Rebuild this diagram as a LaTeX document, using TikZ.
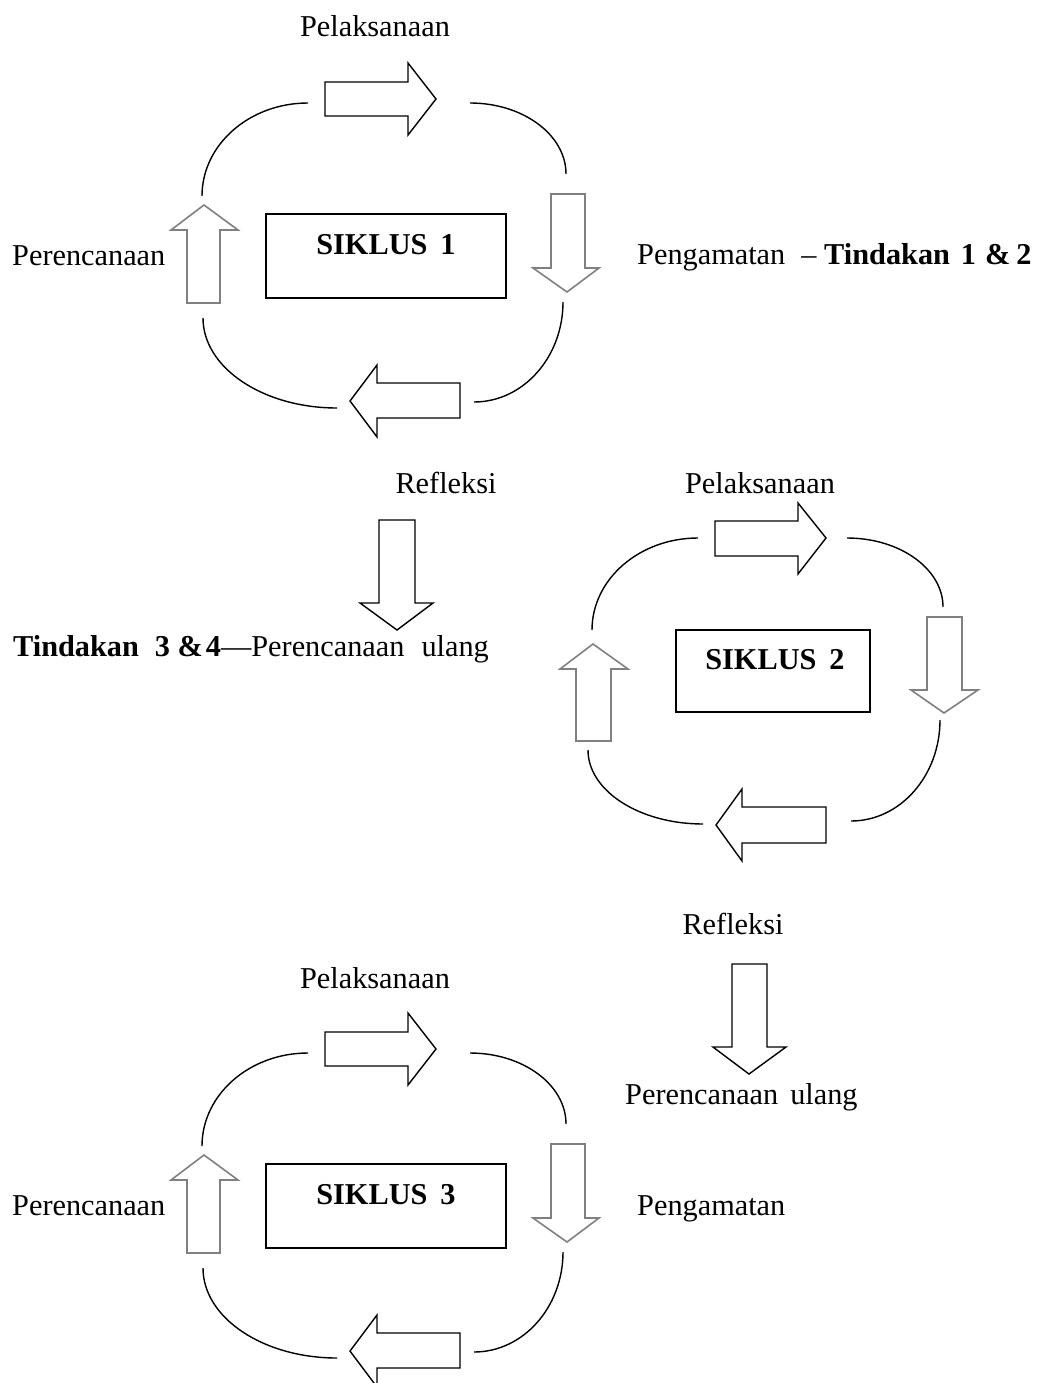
\documentclass[tikz,border=0pt]{standalone}
\usepackage{fontspec}
\setmainfont{Liberation Serif}
\begin{document}
\begin{tikzpicture}[x=1pt,y=-1pt,
  lbl/.style={inner sep=0pt,anchor=base,font=\fontsize{30.3}{36}\selectfont},
  lblw/.style={lbl,anchor=base west},
  arcline/.style={line width=1.4pt,black},
  blkarrow/.style={line width=1.4pt,black,fill=white,line join=miter},
  grayarrow/.style={line width=1.6pt,black!50,fill=white,line join=miter},
  boxstyle/.style={draw,line width=1.4pt,black}]
\useasboundingbox (0,0) rectangle (1044,1383);

% ---------- cycle 1 & 3 shapes ----------
\newcommand\cycleshapes{%
  \draw[arcline] (308,103) arc[start angle=270,end angle=180,x radius=106,y radius=93];
  \draw[arcline] (470,103) arc[start angle=270,end angle=360,x radius=96,y radius=71];
  \draw[arcline] (563,302) arc[start angle=0,end angle=90,x radius=89,y radius=100];
  \draw[arcline] (203,318) arc[start angle=180,end angle=90,x radius=134,y radius=90];
  % right arrow
  \draw[blkarrow] (325,82) -- (408,82) -- (408,63) -- (436,99) -- (408,135) -- (408,116) -- (325,116) -- cycle;
  % down arrow
  \draw[grayarrow] (551,194) -- (585,194) -- (585,268) -- (599,268) -- (567,292) -- (533,268) -- (551,268) -- cycle;
  % left arrow
  \draw[blkarrow] (460,383) -- (377,383) -- (377,365) -- (350,401) -- (377,437) -- (377,418) -- (460,418) -- cycle;
  % up arrow
  \draw[grayarrow] (187,303) -- (220,303) -- (220,230) -- (238,230) -- (204,205) -- (171,230) -- (187,230) -- cycle;
}

\cycleshapes
\node[boxstyle,minimum width=240pt,minimum height=84pt,inner sep=0pt] (box1) at (386,256) {};
\node[lbl] (s1) at (386,254) {\textbf{SIKLUS\hspace{13pt}1}};

\begin{scope}[shift={(0,950)}]
\cycleshapes
\end{scope}
\node[boxstyle,minimum width=240pt,minimum height=84pt,inner sep=0pt] (box3) at (386,1206) {};
\node[lbl] (s3) at (386,1204) {\textbf{SIKLUS\hspace{13pt}3}};

% ---------- cycle 2 ----------
\draw[arcline] (698,538) arc[start angle=270,end angle=180,x radius=106,y radius=92];
\draw[arcline] (847,538) arc[start angle=270,end angle=360,x radius=96,y radius=69];
\draw[arcline] (940,720) arc[start angle=0,end angle=90,x radius=89,y radius=101];
\draw[arcline] (588,750) arc[start angle=180,end angle=90,x radius=115,y radius=74];
\draw[blkarrow] (715,521) -- (798,521) -- (798,503) -- (826,538) -- (798,574) -- (798,556) -- (715,556) -- cycle;
\draw[grayarrow] (927,617) -- (962,617) -- (962,690) -- (978,690) -- (944,713) -- (911,690) -- (927,690) -- cycle;
\draw[blkarrow] (826,807) -- (742,807) -- (742,789) -- (716,825) -- (742,861) -- (742,843) -- (826,843) -- cycle;
\draw[grayarrow] (576,741) -- (611,741) -- (611,669) -- (628,669) -- (593,644) -- (560,669) -- (576,669) -- cycle;
\node[boxstyle,minimum width=194pt,minimum height=82pt,inner sep=0pt] (box2) at (773,671) {};
\node[lbl] (s2) at (775,669) {\textbf{SIKLUS\hspace{13pt}2}};

% ---------- Refleksi arrows ----------
\draw[blkarrow] (379,520) -- (415,520) -- (415,603) -- (433,603) -- (397,630) -- (360,603) -- (379,603) -- cycle;
\draw[blkarrow] (732,964) -- (767,964) -- (767,1047) -- (786,1047) -- (749,1074) -- (713,1047) -- (732,1047) -- cycle;

% ---------- labels ----------
\node[lbl] (pel1) at (375,37) {Pelaksanaan};
\node[lblw] (per1) at (12,265) {Perencanaan};
\node[lblw] (pen1) at (637,264) {Pengamatan\hspace{16pt}– \textbf{Tindakan\hspace{11pt}1\hspace{9pt}\&\hspace{6pt}2}};
\node[lbl] (ref1) at (446,493) {Refleksi};
\node[lbl] (pel2) at (760,493) {Pelaksanaan};
\node[lblw] (tin34) at (13,656) {\textbf{Tindakan\hspace{16pt}3 \&\hspace{3pt}4}—Perencanaan\hspace{17pt}ulang};
\node[lbl] (ref2) at (733,934) {Refleksi};
\node[lblw] (pu2) at (625,1104) {Perencanaan\hspace{12pt}ulang};
\node[lbl] (pel3) at (375,988) {Pelaksanaan};
\node[lblw] (per3) at (12,1215) {Perencanaan};
\node[lblw] (pen3) at (637,1215) {Pengamatan};
\end{tikzpicture}
\end{document}
